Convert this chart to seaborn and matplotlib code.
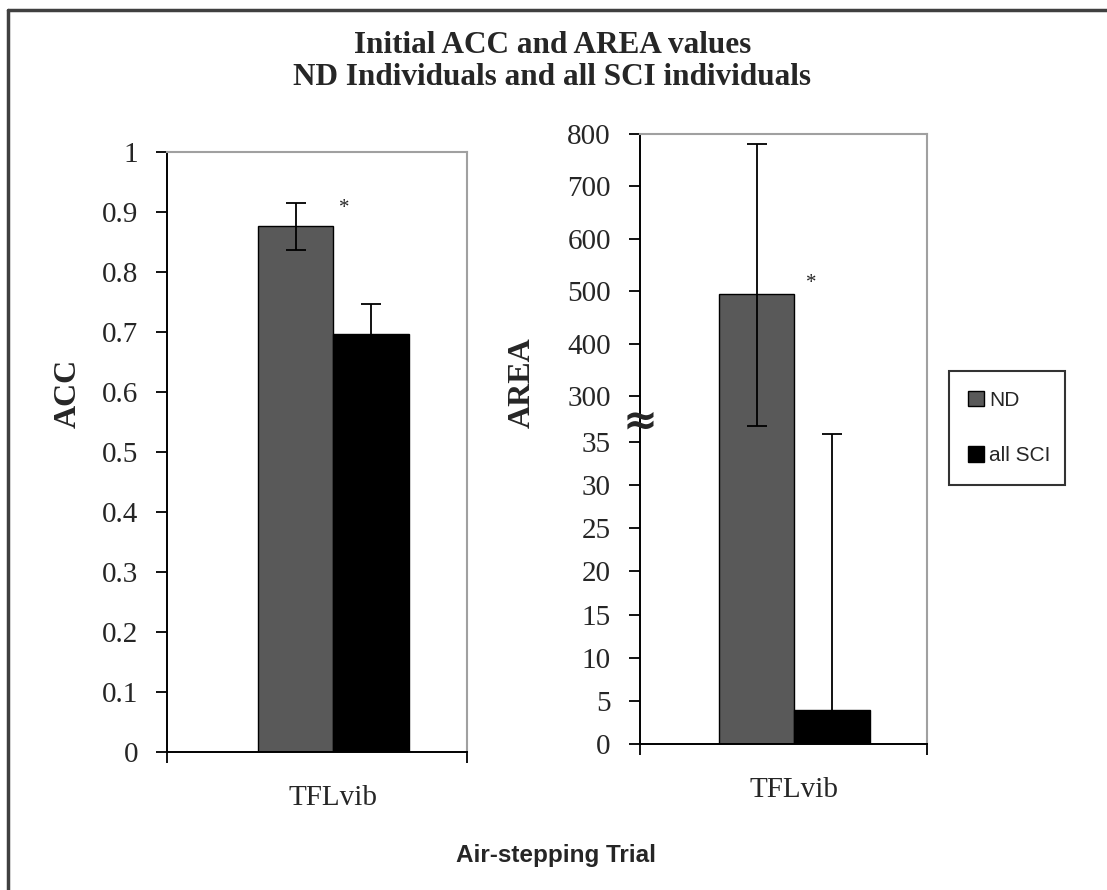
import numpy as np
import pandas as pd
import matplotlib
matplotlib.use("Agg")
import matplotlib.pyplot as plt
from matplotlib.lines import Line2D
import seaborn as sns

# data
trial = ["TFLvib"]
groups = ["ND", "all SCI"]
acc_mean = [0.876, 0.696]
acc_err = [0.039, 0.05]
area_mean = [495, 3.9]
area_err_lo = [368, 32]
area_err_hi = [286, 76]

acc_ticks = [0, 0.1, 0.2, 0.3, 0.4, 0.5, 0.6, 0.7, 0.8, 0.9, 1]
acc_labels = ["0", "0.1", "0.2", "0.3", "0.4", "0.5", "0.6", "0.7", "0.8", "0.9", "1"]
area_ticks = [0, 5, 10, 15, 20, 25, 30, 35, 300, 400, 500, 600, 700, 800]
area_labels = ["0", "5", "10", "15", "20", "25", "30", "35", "300", "400", "500", "600", "700", "800"]

pal = {"ND": "#595959", "all SCI": "#000000"}

sns.set_theme(style="ticks")
plt.rcParams["font.family"] = ["Liberation Serif", "DejaVu Serif"]

# broken axis for AREA: 0-35 stretched, 35-300 squeezed, 300-800 normal
brk_v = np.array([0.0, 35.0, 300.0, 800.0])
brk_t = np.array([0.0, 302.0, 348.0, 610.0])


def fwd(v):
    v = np.asarray(v, dtype=float)
    t = np.interp(v, brk_v, brk_t)
    t = np.where(v < 0, v * brk_t[1] / brk_v[1], t)
    t = np.where(v > 800, 610 + (v - 800) * 262 / 500, t)
    return t


def inv(t):
    t = np.asarray(t, dtype=float)
    v = np.interp(t, brk_t, brk_v)
    v = np.where(t < 0, t * brk_v[1] / brk_t[1], v)
    v = np.where(t > 610, 800 + (t - 610) * 500 / 262, v)
    return v


fig = plt.figure(figsize=(11.07, 8.9), dpi=100)
ax1 = fig.add_axes([0.1509, 0.1551, 0.2710, 0.6742])
ax2 = fig.add_axes([0.5781, 0.1640, 0.2593, 0.6854])

acc_df = pd.DataFrame({"trial": trial * 2, "group": groups, "value": acc_mean})
area_df = pd.DataFrame({"trial": trial * 2, "group": groups, "value": area_mean})

sns.barplot(data=acc_df, x="trial", y="value", hue="group", hue_order=groups,
            palette=pal, edgecolor="black", linewidth=1, errorbar=None,
            legend=False, ax=ax1)
sns.barplot(data=area_df, x="trial", y="value", hue="group", hue_order=groups,
            palette=pal, edgecolor="black", linewidth=1, errorbar=None,
            legend=True, ax=ax2)


def bar_centers(ax):
    return [c[0].get_x() + c[0].get_width() / 2 for c in ax.containers]


xs1 = bar_centers(ax1)
xs2 = bar_centers(ax2)
ax1.errorbar(xs1, acc_mean, yerr=acc_err, fmt="none", ecolor="black",
             elinewidth=1.3, capsize=7, capthick=1.3, zorder=5)
ax2.errorbar(xs2, area_mean, yerr=[area_err_lo, area_err_hi], fmt="none",
             ecolor="black", elinewidth=1.3, capsize=7, capthick=1.3, zorder=5)

ax2.set_yscale("function", functions=(fwd, inv))

ax1.set_ylim(0, 1)
ax1.set_yticks(acc_ticks)
ax1.set_yticklabels(acc_labels)
ax2.set_ylim(0, 800)
ax2.set_yticks(area_ticks)
ax2.set_yticklabels(area_labels)
ax2.yaxis.set_minor_locator(matplotlib.ticker.NullLocator())

ax1.set_xlim(-0.881, 0.707)
ax2.set_xlim(-0.817, 0.702)

for ax in (ax1, ax2):
    lo, hi = ax.get_xlim()
    ax.set_xticks([lo, hi], minor=True)
    ax.tick_params(axis="x", which="major", length=0, pad=24, labelsize=21)
    ax.tick_params(axis="x", which="minor", length=8, width=1.3, direction="out", color="black")
    ax.tick_params(axis="y", length=8, width=1.3, direction="out", pad=13,
                   labelsize=21, color="black")
    ax.set_xlabel("")
    for s in ("top", "right"):
        ax.spines[s].set_visible(True)
        ax.spines[s].set_color("#a0a0a0")
        ax.spines[s].set_linewidth(1.5)
    for s in ("left", "bottom"):
        ax.spines[s].set_color("black")
        ax.spines[s].set_linewidth(1.4)

ax1.set_ylabel("ACC", fontsize=23, fontweight="bold")
ax1.yaxis.set_label_coords(-0.28, 0.598)
ax2.set_ylabel("AREA", fontsize=23, fontweight="bold")
ax2.yaxis.set_label_coords(-0.359, 0.592)

# significance marks
ax1.text(xs1[0] + 0.23, 0.905, "*", fontsize=15, ha="left", va="center")
ax2.text(xs2[0] + 0.26, 515, "*", fontsize=15, ha="left", va="center")

# axis break sign
ax2.text(0, 0.528, "\u2248", transform=ax2.transAxes, fontsize=30,
         fontweight="bold", family="DejaVu Sans", ha="center", va="center")

# legend
handles, labels = ax2.get_legend_handles_labels()
ax2.get_legend().remove()
leg = fig.legend(handles, labels, loc="upper left",
                 bbox_to_anchor=(0.857, 0.456, 0.105, 0.127), mode="expand",
                 borderaxespad=0, fancybox=False, frameon=True,
                 prop={"family": "Liberation Sans", "size": 15},
                 handlelength=0.75, handleheight=0.75, handletextpad=0.25,
                 labelspacing=1.75, borderpad=0.95)
leg.get_frame().set_edgecolor("black")
leg.get_frame().set_linewidth(1.5)
for h in leg.legend_handles:
    h.set_edgecolor("black")

fig.suptitle("Initial ACC and AREA values\nND Individuals and all SCI individuals",
             x=0.499, y=0.965, fontsize=22.5, fontweight="bold", linespacing=1.15)

fig.text(0.502, 0.039, "Air-stepping Trial", ha="center", va="center",
         fontsize=17.5, fontweight="bold", family="Liberation Sans")

# outer frame (top and left edges)
fig.add_artist(Line2D([8 / 1107, 1], [1 - 10 / 890, 1 - 10 / 890],
                      transform=fig.transFigure, color="#404040", lw=2.5))
fig.add_artist(Line2D([8 / 1107, 8 / 1107], [0, 1 - 10 / 890],
                      transform=fig.transFigure, color="#404040", lw=2.5))

fig.savefig("out.png", dpi=100)
